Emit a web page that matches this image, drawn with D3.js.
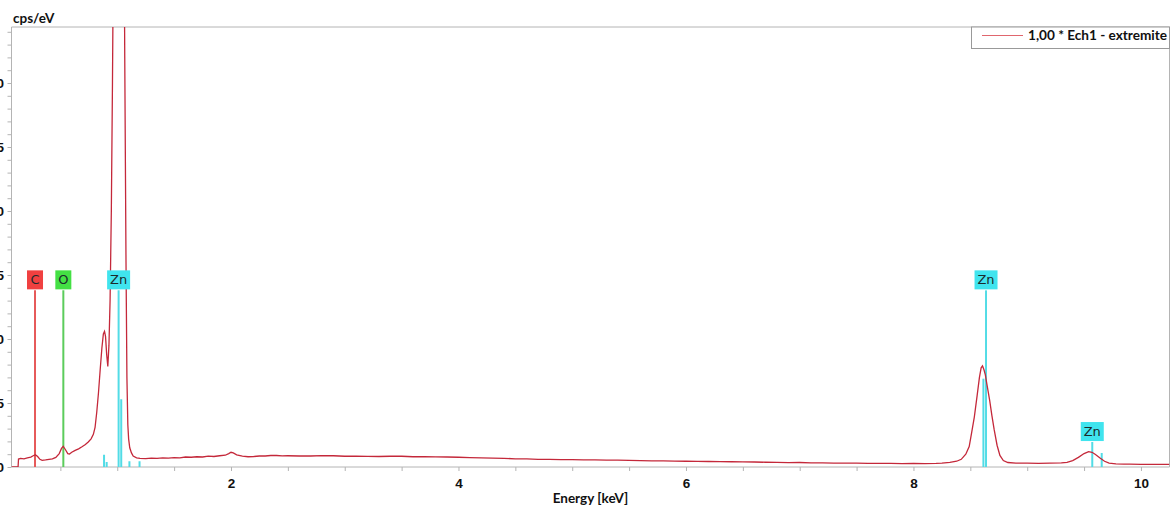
<!DOCTYPE html>
<html><head><meta charset="utf-8">
<script src="https://cdn.jsdelivr.net/npm/d3@7/dist/d3.min.js"></script>
<style>body{margin:0;background:#fff;}svg{display:block;}</style>
</head><body>
<script>
// ---- data ----
const energy = [0.07,0.128,0.132,0.15,0.18,0.21,0.24,0.265,0.28,0.30,0.32,0.34,0.37,0.40,0.43,0.46,0.49,0.51,0.525,0.545,0.565,0.58,0.60,0.63,0.66,0.69,0.72,0.745,0.77,0.79,0.805,0.82,0.835,0.85,0.865,0.878,0.888,0.897,0.907,0.917,0.927,0.937,0.948,0.958,0.966,0.98,0.995,1.012,1.03,1.045,1.058,1.066,1.077,1.085,1.093,1.10,1.11,1.125,1.14,1.17,1.20,1.25,1.30,1.35,1.40,1.45,1.50,1.55,1.60,1.65,1.70,1.75,1.80,1.85,1.90,1.95,1.98,2.00,2.02,2.05,2.10,2.15,2.20,2.25,2.30,2.35,2.40,2.45,2.50,2.60,2.70,2.80,2.90,3.00,3.10,3.20,3.30,3.40,3.50,3.60,3.70,3.80,3.90,4.00,4.10,4.20,4.30,4.40,4.50,4.60,4.70,4.80,4.90,5.00,5.10,5.20,5.30,5.40,5.50,5.60,5.70,5.80,5.90,6.00,6.10,6.20,6.30,6.40,6.50,6.60,6.70,6.80,6.90,7.00,7.10,7.20,7.30,7.40,7.50,7.60,7.70,7.80,7.90,8.00,8.10,8.20,8.25,8.32,8.38,8.42,8.46,8.49,8.51,8.535,8.56,8.58,8.595,8.607,8.62,8.632,8.645,8.67,8.69,8.71,8.735,8.76,8.79,8.83,8.90,9.00,9.10,9.20,9.30,9.35,9.40,9.45,9.50,9.54,9.57,9.60,9.64,9.68,9.72,9.78,9.85,9.90,10.0,10.1,10.2,10.25];
const cps    = [0,0,0.62,0.68,0.64,0.72,0.78,0.9,0.95,0.82,0.6,0.52,0.55,0.6,0.63,0.75,1.05,1.45,1.62,1.35,1.05,1.02,1.15,1.3,1.42,1.58,1.75,1.95,2.2,2.55,3.1,4.3,5.8,7.6,9.3,10.4,10.6,10.2,8.8,7.85,9.5,13,20,30,40,80,130,150,130,80,45,32,16,7,3.3,2.2,1.5,1.1,0.85,0.72,0.68,0.66,0.7,0.68,0.72,0.7,0.74,0.72,0.78,0.76,0.8,0.78,0.85,0.82,0.88,0.92,1.05,1.15,1.1,0.95,0.85,0.8,0.82,0.86,0.86,0.9,0.9,0.87,0.88,0.86,0.86,0.89,0.88,0.84,0.85,0.83,0.82,0.84,0.84,0.8,0.8,0.79,0.78,0.76,0.74,0.72,0.7,0.68,0.64,0.63,0.6,0.6,0.58,0.57,0.55,0.55,0.53,0.54,0.52,0.5,0.48,0.48,0.46,0.45,0.44,0.43,0.42,0.41,0.4,0.39,0.37,0.36,0.34,0.35,0.33,0.32,0.31,0.31,0.3,0.29,0.29,0.28,0.27,0.28,0.27,0.28,0.3,0.36,0.45,0.6,1.0,1.6,2.6,3.9,5.6,7.0,7.75,7.9,7.6,7.2,6.5,5.2,4.0,2.9,1.7,0.9,0.5,0.35,0.3,0.3,0.28,0.3,0.32,0.36,0.5,0.75,1.05,1.2,1.15,0.98,0.7,0.45,0.3,0.24,0.22,0.22,0.2,0.21,0.2,0.2];

const labelNames  = ["C","O","Zn","Zn","Zn"];
const labelEnergy = [0.277,0.526,1.012,8.638,9.572];
const labelTop    = [13.8,13.8,13.8,13.8,1.95];
const labelFill   = ["#f04040","#44e044","#40e4ee","#40e4ee","#40e4ee"];
const labelLine   = ["#e65a5a","#5ccc5c","#52dce6","#52dce6","#52dce6"];

const minorLineEnergy = [0.884,0.907,1.035,1.107,1.196,8.615,9.655];
const minorLineHeight = [0.95,0.4,5.3,0.45,0.45,6.9,1.1];

const xTicks = [2,4,6,8,10];
const yTicks = [0,5,10,15,20,25,30];
const legendText = "1,00 * Ech1 - extremite";

// ---- layout ----
const W = 1172, H = 507;
const L = 11.5, R = 1169.5, T = 27, B = 467;
const x = d3.scaleLinear().domain([0.0703, 10.251]).range([L, R]);
const y = d3.scaleLinear().domain([0, 34.375]).range([B, T]);

const svg = d3.select("body").append("svg").attr("width", W).attr("height", H)
  .style("font-family", "Lato, 'Open Sans', sans-serif");

svg.append("defs").append("clipPath").attr("id","clip")
  .append("rect").attr("x", L).attr("y", T).attr("width", R-L).attr("height", B-T);

// frame
svg.append("line").attr("x1",L).attr("x2",R).attr("y1",T).attr("y2",T).attr("stroke","#b4b4b4");
svg.append("line").attr("x1",R).attr("x2",R).attr("y1",T).attr("y2",B).attr("stroke","#b4b4b4");

// axes
const xAxis = d3.axisBottom(x).tickValues(d3.range(0.5, 10.3, 0.5)).tickSize(4)
  .tickFormat(d => xTicks.includes(d) ? d : "");
const gx = svg.append("g").attr("transform", `translate(0,${B})`).call(xAxis);
gx.select(".domain").attr("stroke","#b4b4b4").attr("d", `M${L},0H${R}`);
gx.selectAll(".tick line").attr("stroke","#b4b4b4");
gx.selectAll("text").attr("font-size", 13.5).attr("font-weight", 700).attr("fill","#111").attr("dy", "1.0em");

const yAxis = d3.axisLeft(y).tickValues(d3.range(0, 35, 1)).tickSize(4)
  .tickFormat(d => yTicks.includes(d) ? d : "");
const gy = svg.append("g").attr("transform", `translate(${L},0)`).call(yAxis);
gy.select(".domain").attr("stroke","#b4b4b4").attr("d", `M0,${B}V${T}`);
gy.selectAll(".tick line").attr("stroke","#b4b4b4");
gy.selectAll("text").attr("font-size", 13.5).attr("font-weight", 700).attr("fill","#111").attr("x", -7.5);

svg.append("text").attr("x", 13).attr("y", 23).text("cps/eV")
  .attr("font-size", 13.5).attr("font-weight", 700).attr("fill","#111");
svg.append("text").attr("x", (L+R)/2).attr("y", 503).attr("text-anchor","middle")
  .text("Energy [keV]").attr("font-size", 13.5).attr("font-weight", 700).attr("fill","#111");

const plot = svg.append("g").attr("clip-path","url(#clip)");

// minor element lines
plot.selectAll(".mline").data(minorLineEnergy).join("line")
  .attr("x1", d => x(d)).attr("x2", d => x(d))
  .attr("y1", B).attr("y2", (d,i) => y(minorLineHeight[i]))
  .attr("stroke", "#52dce6").attr("stroke-width", 2);

// main element lines
plot.selectAll(".eline").data(labelEnergy).join("line")
  .attr("x1", d => x(d)).attr("x2", d => x(d))
  .attr("y1", B).attr("y2", (d,i) => y(labelTop[i]))
  .attr("stroke", (d,i) => labelLine[i]).attr("stroke-width", 2);

// spectrum
const pts = energy.map((e,i) => [e, cps[i]]);
plot.append("path").datum(pts)
  .attr("d", d3.line().x(d => x(d[0])).y(d => y(d[1])))
  .attr("fill","none").attr("stroke","#c4283a").attr("stroke-width",1.3);

// labels
const lg = svg.selectAll(".lab").data(labelNames).join("g");
lg.each(function(name, i){
  const g = d3.select(this);
  const cx = x(labelEnergy[i]);
  const bottom = y(labelTop[i]) - 1;
  const w = name.length === 1 ? 16 : 23;
  g.append("rect").attr("x", cx - w/2).attr("y", bottom - 19).attr("width", w).attr("height", 19)
    .attr("fill", labelFill[i]);
  g.append("text").attr("x", cx).attr("y", bottom - 5).attr("text-anchor","middle")
    .attr("font-size", 13).attr("fill","#1c2a2c").attr("font-family","'DejaVu Sans', sans-serif").text(name);
});

// legend
svg.append("rect").attr("x", 971.5).attr("y", T).attr("width", R-971.5).attr("height", 21.5)
  .attr("fill","#fff").attr("stroke","#999");
svg.append("line").attr("x1", 982).attr("x2", 1023).attr("y1", 35.5).attr("y2", 35.5)
  .attr("stroke","#e0666e").attr("stroke-width",1.2);
svg.append("text").attr("x", 1028).attr("y", 40).text(legendText)
  .attr("font-size", 13.6).attr("font-weight",700).attr("fill","#111");
</script>
</body></html>
